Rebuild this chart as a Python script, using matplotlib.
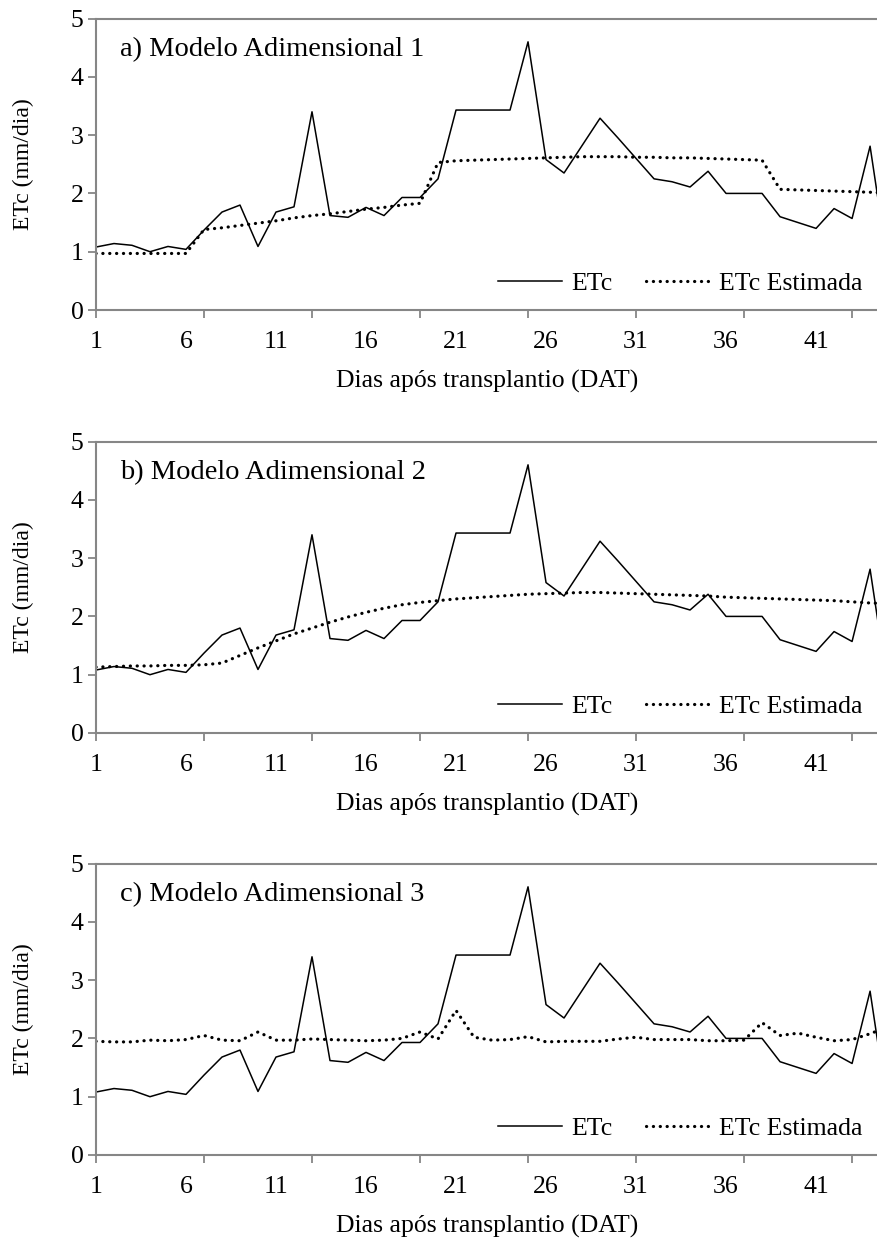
import matplotlib.pyplot as plt

plt.rcParams['font.family'] = ['Liberation Serif', 'DejaVu Serif']

# daily crop evapotranspiration, days after transplanting
dias = list(range(1, 46))
etc = [1.08, 1.14, 1.11, 1.00, 1.09, 1.04, 1.37, 1.68, 1.80, 1.09,
       1.68, 1.77, 3.40, 1.62, 1.59, 1.76, 1.62, 1.93, 1.93, 2.25,
       3.43, 3.43, 3.43, 3.43, 4.60, 2.58, 2.35, 2.82, 3.29, 2.95,
       2.60, 2.25, 2.20, 2.11, 2.38, 2.00, 2.00, 2.00, 1.60, 1.50,
       1.40, 1.74, 1.57, 2.81, 0.75]

# estimated ETc for each dimensionless model
est_1 = [0.97, 0.97, 0.97, 0.97, 0.97, 0.97, 1.38, 1.41, 1.45, 1.49,
         1.53, 1.58, 1.62, 1.65, 1.69, 1.73, 1.76, 1.80, 1.83, 2.53,
         2.56, 2.57, 2.58, 2.59, 2.60, 2.61, 2.62, 2.63, 2.63, 2.63,
         2.62, 2.62, 2.61, 2.61, 2.60, 2.59, 2.58, 2.57, 2.07, 2.06,
         2.05, 2.04, 2.03, 2.02, 2.01]
est_2 = [1.13, 1.14, 1.15, 1.15, 1.16, 1.16, 1.17, 1.20, 1.33, 1.46,
         1.58, 1.70, 1.80, 1.90, 1.99, 2.07, 2.14, 2.20, 2.24, 2.27,
         2.30, 2.32, 2.34, 2.36, 2.38, 2.39, 2.40, 2.41, 2.41, 2.40,
         2.39, 2.38, 2.37, 2.36, 2.35, 2.33, 2.32, 2.31, 2.30, 2.29,
         2.28, 2.27, 2.25, 2.23, 2.22]
est_3 = [1.95, 1.94, 1.94, 1.97, 1.96, 1.98, 2.05, 1.97, 1.96, 2.11,
         1.97, 1.97, 1.99, 1.98, 1.97, 1.96, 1.97, 2.00, 2.11, 1.99,
         2.48, 2.02, 1.97, 1.98, 2.03, 1.94, 1.95, 1.95, 1.95, 1.99,
         2.02, 1.98, 1.98, 1.98, 1.96, 1.96, 1.97, 2.27, 2.05, 2.09,
         2.02, 1.96, 1.98, 2.08, 2.20]

titulos = ['a) Modelo Adimensional 1', 'b) Modelo Adimensional 2', 'c) Modelo Adimensional 3']
estimadas = [est_1, est_2, est_3]
rotulos_x = list(range(1, 42, 5))
marcas_x = list(range(1, 44, 6))

cinza = '#868686'
fig = plt.figure(figsize=(8.78, 12.43), dpi=100)
bottoms = [0.7506, 0.4103, 0.0708]

for titulo, est, b in zip(titulos, estimadas, bottoms):
    ax = fig.add_axes([0.1093, b, 0.8907, 0.2345])
    ax.plot(dias, etc, color='black', lw=1.1, label='ETc')
    ax.plot(dias, est, color='black', lw=2.3, linestyle=(0, (0.05, 2.1)),
            dash_capstyle='round', label='ETc Estimada')
    ax.set_xlim(1, 44.44)
    ax.set_ylim(0, 5)

    # tick marks every 6 days, labels every 5 days
    ax.xaxis.remove_overlapping_locs = False
    ax.set_xticks(marcas_x)
    ax.set_xticklabels([])
    ax.set_xticks(rotulos_x, minor=True)
    ax.set_xticklabels([str(d) for d in rotulos_x], minor=True)
    ax.tick_params(axis='x', which='major', direction='out', length=6, width=1.3, color=cinza)
    ax.tick_params(axis='x', which='minor', length=0, pad=15, labelsize=18.5)
    ax.set_yticks(range(6))
    ax.tick_params(axis='y', direction='out', length=6, width=1.3, color=cinza, pad=3, labelsize=18.5)

    for s in ['left', 'bottom', 'top']:
        ax.spines[s].set_color(cinza)
        ax.spines[s].set_linewidth(1.5)
    ax.spines['right'].set_visible(False)

    ax.text(0.031, 4.47, titulo, fontsize=20.5, va='center', ha='left',
            transform=ax.get_yaxis_transform())
    ax.set_ylabel('ETc (mm/dia)', fontsize=17)
    ax.yaxis.set_label_coords(-0.079, 0.5)
    ax.set_xlabel('Dias após transplantio (DAT)', fontsize=18.5, labelpad=12)

    ax.legend(loc='center right', bbox_to_anchor=(0.98, 0.09), ncol=2, frameon=False,
              fontsize=18.5, handlelength=2.5, handletextpad=0.35, columnspacing=1.3,
              borderpad=0, borderaxespad=0)

fig.savefig('out.png', dpi=100)
